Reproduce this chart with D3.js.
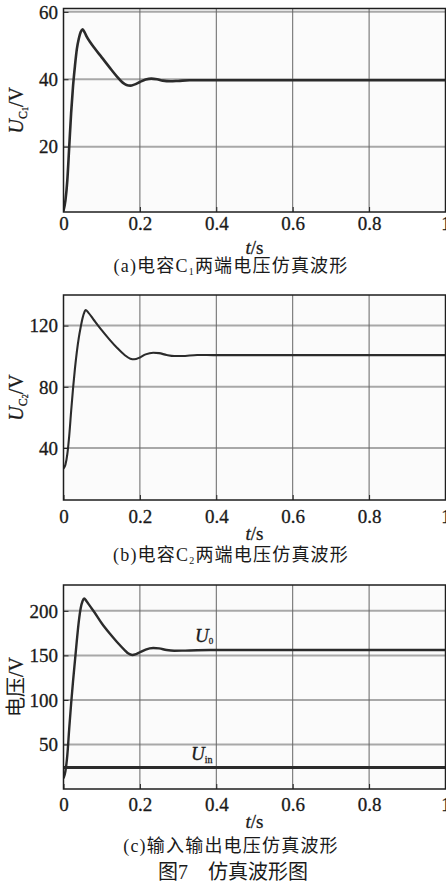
<!DOCTYPE html>
<html>
<head>
<meta charset="utf-8">
<script src="https://cdn.jsdelivr.net/npm/d3@7"></script>
<style>
  html, body { margin: 0; padding: 0; background: #fff; }
  svg { display: block; }
  .sf { font-family: "Liberation Serif", "DejaVu Serif", "Noto Serif", "Times New Roman", serif; }
</style>
</head>
<body>
<svg id="chart" width="446" height="884"></svg>
<script>
// ---------- data ----------
const xTicks = [0, 0.2, 0.4, 0.6, 0.8, 1];
const xTickLabels = ["0", "0.2", "0.4", "0.6", "0.8", "1"];

const yTicksA = [20, 40, 60];
const yTicksB = [40, 80, 120];
const yTicksC = [50, 100, 150, 200];

const timeA = [0, 0.005, 0.01, 0.015, 0.02, 0.025, 0.03, 0.035, 0.04, 0.045, 0.05, 0.055, 0.06, 0.07, 0.08, 0.1, 0.12, 0.14, 0.155, 0.165, 0.175, 0.185, 0.2, 0.215, 0.23, 0.245, 0.26, 0.28, 0.3, 0.33, 0.4, 0.6, 0.8, 1.0];
const uC1   = [1, 4, 10, 20, 30, 38, 44, 49, 52, 54, 54.8, 54.0, 52.8, 51.0, 49.4, 46.5, 43.6, 40.8, 39, 38.3, 38.1, 38.4, 39.2, 39.9, 40.2, 40.0, 39.6, 39.4, 39.5, 39.7, 39.7, 39.7, 39.7, 39.7];

const timeB = [0, 0.005, 0.01, 0.015, 0.02, 0.025, 0.03, 0.035, 0.04, 0.045, 0.05, 0.055, 0.058, 0.065, 0.08, 0.1, 0.12, 0.14, 0.16, 0.175, 0.185, 0.2, 0.215, 0.235, 0.25, 0.27, 0.29, 0.31, 0.35, 0.4, 0.6, 0.8, 1.0];
const uC2   = [26.5, 29, 36, 48, 64, 79, 92, 103, 112, 119, 125, 129, 130.2, 128.5, 123.5, 117, 111, 105.5, 100.8, 98.4, 98, 99.2, 101.2, 102.3, 102, 100.8, 100.1, 100.1, 100.8, 100.7, 100.7, 100.7, 100.7];

const timeC = [0, 0.005, 0.01, 0.015, 0.02, 0.025, 0.03, 0.035, 0.04, 0.045, 0.05, 0.054, 0.06, 0.07, 0.08, 0.1, 0.12, 0.14, 0.16, 0.17, 0.18, 0.19, 0.2, 0.215, 0.235, 0.25, 0.27, 0.29, 0.31, 0.35, 0.4, 0.6, 0.8, 1.0];
const uOut  = [12, 20, 38, 68, 96, 121, 144, 167, 188, 203, 211, 214, 211, 205, 199, 186, 175, 165, 156, 152, 150.5, 151.5, 153.5, 156.5, 158.2, 157.8, 156, 155.2, 155.3, 155.8, 156, 156, 156, 156];
const timeIn = [0, 1.0];
const uIn    = [24, 24];

// ---------- drawing ----------
const svg = d3.select("#chart");
const serif = '"Liberation Serif", "DejaVu Serif", "Noto Serif", "Times New Roman", serif';
const cjk = '"Liberation Serif", "DejaVu Serif", "Noto Sans CJK SC", serif';
const ink = "#1a1a1a";

const left = 63.5, right = 445.5;
const x = d3.scaleLinear().domain([0, 1]).range([left, right]);

const panels = [
  { top: 8.5, bottom: 212, yDomain: [0.6, 61], yTicks: yTicksA, series: [{t: timeA, v: uC1, w: 2.6}],
    xLabY: 229.5, tsY: 254, capY: 272, cap: "a", sub: "1", ylab: "C1", id: "a" },
  { top: 295, bottom: 500, yDomain: [6, 140], yTicks: yTicksB, series: [{t: timeB, v: uC2, w: 2.1}],
    xLabY: 523, tsY: 540, capY: 561, cap: "b", sub: "2", ylab: "C2", id: "b" },
  { top: 585, bottom: 789, yDomain: [0, 229], yTicks: yTicksC, series: [{t: timeC, v: uOut, w: 2.4}, {t: timeIn, v: uIn, w: 3}],
    xLabY: 811, tsY: 828, capY: 852, id: "c" }
];

function st(sel, size) {
  return sel.attr("class", "sf").style("font-family", serif).attr("font-size", size)
    .attr("fill", ink).attr("stroke", ink).attr("stroke-width", 0.3);
}

panels.forEach(p => {
  const y = d3.scaleLinear().domain(p.yDomain).range([p.bottom, p.top]);
  const g = svg.append("g");

  g.append("rect").attr("x", left).attr("y", p.top).attr("width", right - left).attr("height", p.bottom - p.top)
    .attr("fill", "#fbfbfb");

  g.append("g").selectAll("line").data(p.yTicks.filter(d => y(d) > p.top + 2)).join("line")
    .attr("x1", left).attr("x2", right).attr("y1", d => y(d)).attr("y2", d => y(d))
    .attr("stroke", "#a8a8a8").attr("stroke-width", 2);
  g.append("g").selectAll("line").data(xTicks.slice(1, -1)).join("line")
    .attr("x1", d => x(d)).attr("x2", d => x(d)).attr("y1", p.top).attr("y2", p.bottom)
    .attr("stroke", "#666").attr("stroke-width", 1);

  g.append("clipPath").attr("id", "clip-" + p.id).append("rect")
    .attr("x", left).attr("y", p.top).attr("width", right - left).attr("height", p.bottom - p.top);

  const line = d3.line().x(d => x(d[0])).y(d => y(d[1])).curve(d3.curveMonotoneX);
  p.series.forEach(s => {
    g.append("path").attr("clip-path", "url(#clip-" + p.id + ")")
      .datum(s.t.map((t, i) => [t, s.v[i]]))
      .attr("d", line).attr("fill", "none").attr("stroke", "#2b2b2b")
      .attr("stroke-width", s.w).attr("stroke-linejoin", "round");
  });

  const yAxis = d3.axisLeft(y).tickValues(p.yTicks).tickSize(-5).tickPadding(10).tickFormat(d3.format("d"));
  const ga = g.append("g").attr("transform", `translate(${left},0)`).call(yAxis);
  ga.attr("font-family", null);
  ga.select(".domain").remove();
  ga.selectAll("line").attr("stroke", "#222");
  st(ga.selectAll("text"), 19).attr("x", -5.5).attr("dy", "0.33em");

  const xAxis = d3.axisBottom(x).tickValues(xTicks).tickSize(-5).tickFormat((d, i) => xTickLabels[i]);
  const gx = g.append("g").attr("transform", `translate(0,${p.bottom})`).call(xAxis);
  gx.attr("font-family", null);
  gx.select(".domain").remove();
  gx.selectAll("line").attr("stroke", "#222");
  st(gx.selectAll("text"), 19).attr("y", p.xLabY - p.bottom).attr("dy", 0);

  g.append("rect").attr("x", left).attr("y", p.top).attr("width", right - left).attr("height", p.bottom - p.top)
    .attr("fill", "none").attr("stroke", "#1e1e1e").attr("stroke-width", 1.5);

  const ts = st(svg.append("text"), 19).attr("x", (left + right) / 2).attr("y", p.tsY).attr("text-anchor", "middle");
  ts.append("tspan").attr("font-style", "italic").text("t");
  ts.append("tspan").text("/s");

  const cy = (p.top + p.bottom) / 2;
  const yl = st(svg.append("text"), 20).attr("transform", `translate(23,${cy}) rotate(-90)`).attr("text-anchor", "middle");
  if (p.ylab) {
    yl.append("tspan").attr("font-style", "italic").text("U");
    yl.append("tspan").attr("font-size", 12).attr("dy", 4).text("C");
    yl.append("tspan").attr("font-size", 8).attr("dy", 1).text(p.ylab.slice(1));
    yl.append("tspan").attr("dy", -5).text("/V");
  } else {
    yl.append("tspan").style("font-family", cjk).attr("stroke-width", 0).text("电压");
    yl.append("tspan").text("/V");
  }

  const cap = svg.append("text").attr("x", 231).attr("y", p.capY).attr("text-anchor", "middle")
    .style("font-family", cjk).attr("font-size", 18).attr("fill", ink).attr("letter-spacing", 1.2);
  if (p.cap) {
    cap.append("tspan").text("(" + p.cap + ")电容C");
    cap.append("tspan").attr("font-size", 10).attr("dy", 3).text(p.sub);
    cap.append("tspan").attr("dy", -3).text("两端电压仿真波形");
  } else {
    cap.text("(c)输入输出电压仿真波形");
  }
});

const lab0 = st(svg.append("text"), 19).attr("x", 195).attr("y", 642);
lab0.append("tspan").attr("font-style", "italic").text("U");
lab0.append("tspan").attr("font-size", 9).attr("dy", 2).text("0");
const labIn = st(svg.append("text"), 19).attr("x", 191).attr("y", 760);
labIn.append("tspan").attr("font-style", "italic").text("U");
labIn.append("tspan").attr("font-size", 10).attr("dy", 3).text("in");

svg.append("text").attr("x", 233).attr("y", 879).attr("text-anchor", "middle")
  .style("font-family", cjk).attr("font-size", 20).attr("fill", ink).text("图7　仿真波形图");
</script>
</body>
</html>
